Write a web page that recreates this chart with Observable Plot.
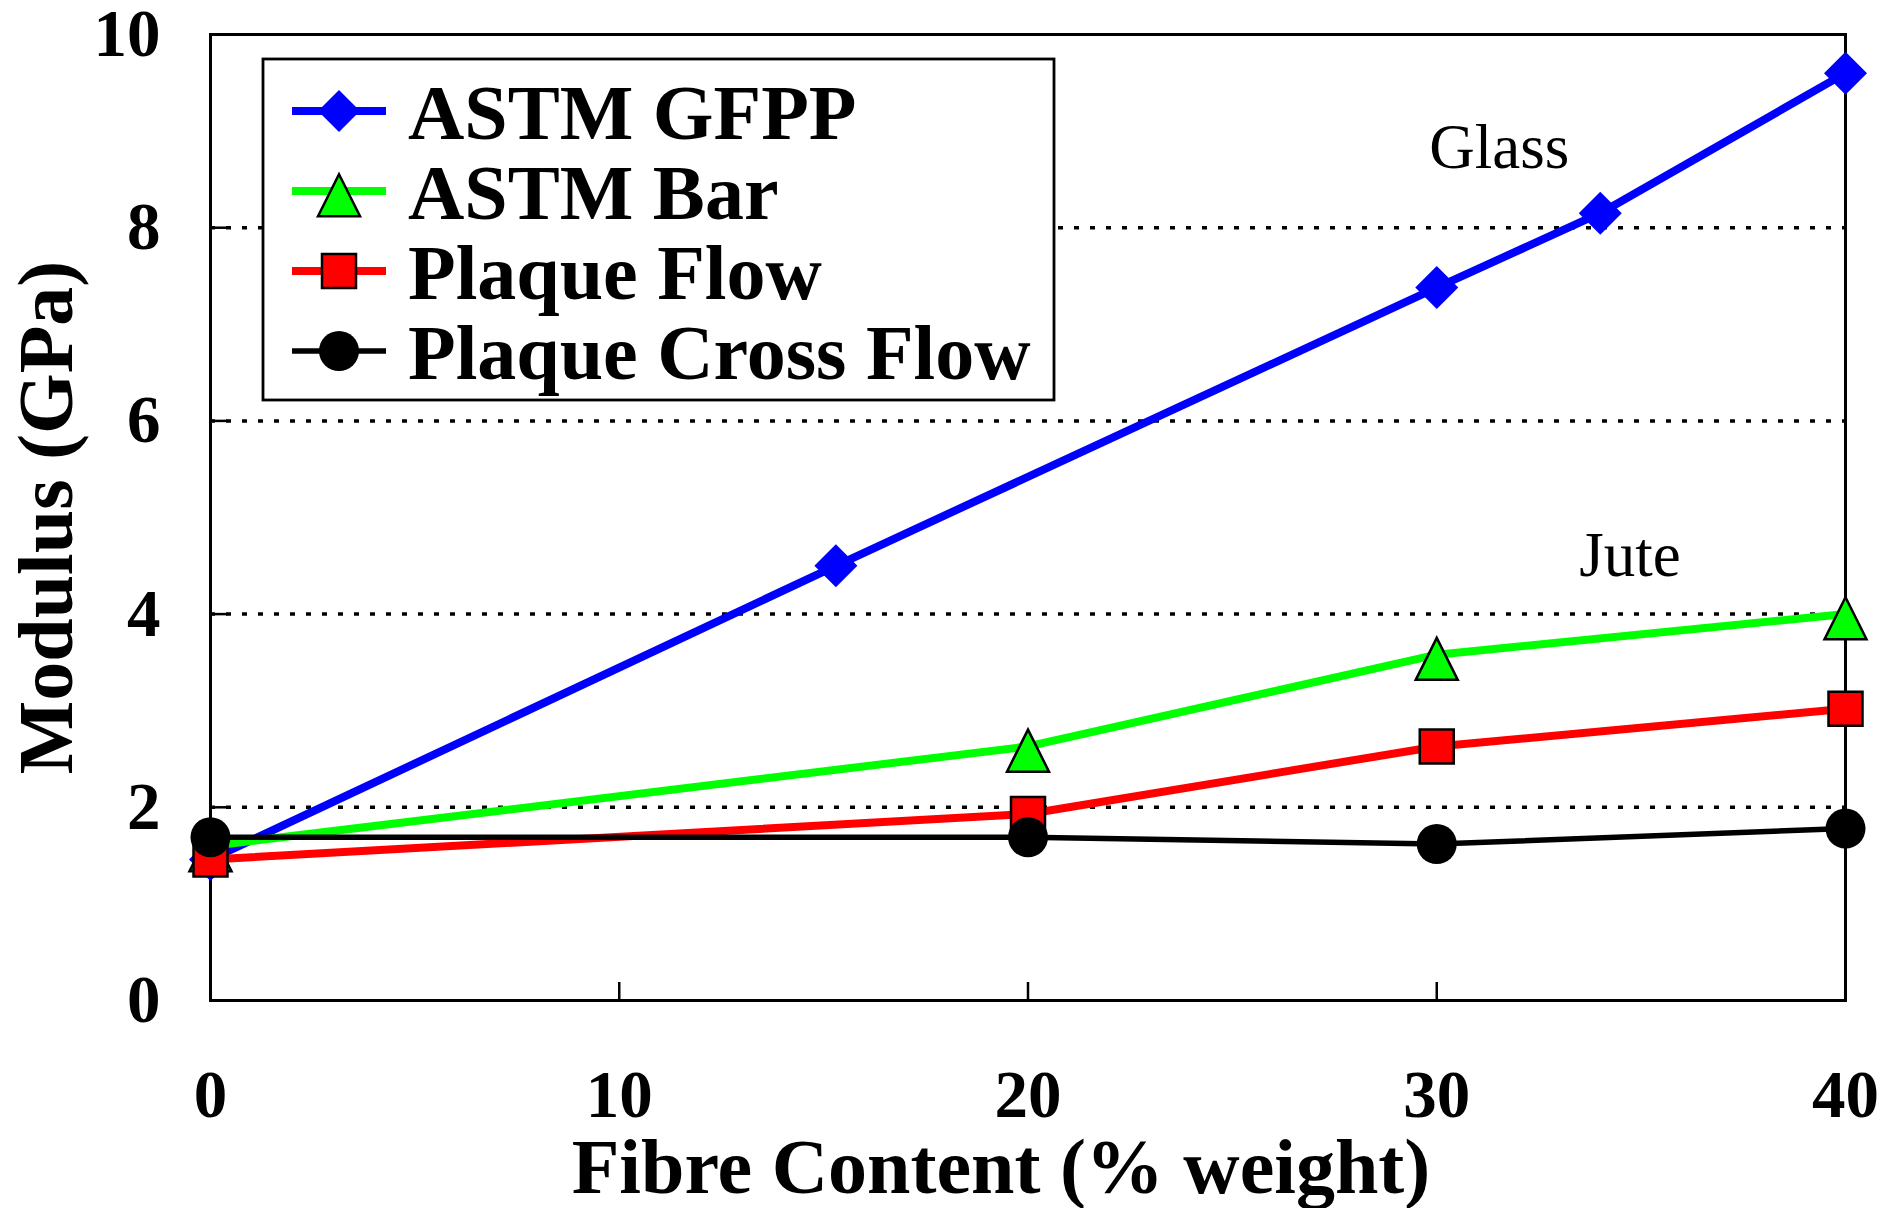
<!DOCTYPE html>
<html>
<head>
<meta charset="utf-8">
<script src="https://cdn.jsdelivr.net/npm/d3@7"></script>
<script src="https://cdn.jsdelivr.net/npm/@observablehq/plot@0.6"></script>
<style>
  body { margin: 0; background: #ffffff; }
  #chart svg { display: block; }
</style>
</head>
<body>
<div id="chart"></div>
<script>
// ---------------- data ----------------
const seriesNames = ["ASTM GFPP", "ASTM Bar", "Plaque Flow", "Plaque Cross Flow"];
const glassX = [0, 15.3, 30, 34, 40];
const gfppY = [1.46, 4.5, 7.38, 8.15, 9.6];
const juteX = [0, 20, 30, 40];
const barY = [1.6, 2.63, 3.58, 4.0];
const flowY = [1.46, 1.93, 2.63, 3.02];
const crossY = [1.69, 1.69, 1.62, 1.78];
const xTicks = [0, 10, 20, 30, 40];
const yTicks = [0, 2, 4, 6, 8, 10];
const gridY = [2, 4, 6, 8];
const annotLabels = ["Glass", "Jute"];
const annotX = [31.53, 34.73];
const annotY = [8.83, 4.6];
const xTitle = "Fibre Content (% weight)";
const yTitle = "Modulus (GPa)";

// ---------------- symbols ----------------
const symDiamond = {draw(ctx, size) {const r = Math.sqrt(size / Math.PI);
  ctx.moveTo(0, -r); ctx.lineTo(r, 0); ctx.lineTo(0, r); ctx.lineTo(-r, 0); ctx.closePath();}};
const symTriangle = {draw(ctx, size) {const r = Math.sqrt(size / Math.PI);
  ctx.moveTo(0, -0.8 * r); ctx.lineTo(r, 1.2 * r); ctx.lineTo(-r, 1.2 * r); ctx.closePath();}};
const symSquare = {draw(ctx, size) {const r = Math.sqrt(size / Math.PI);
  ctx.rect(-r, -r, 2 * r, 2 * r);}};

// ---------------- styles ----------------
const styles = [
  {color: "#0000ff", symbol: symDiamond, r: 21.5, fill: "#0000ff", stroke: "none", lw: 8, legendR: 21},
  {color: "#00ff00", symbol: symTriangle, r: 21, fill: "#00ff00", stroke: "#000", lw: 8, legendR: 21},
  {color: "#ff0000", symbol: symSquare, r: 17, fill: "#ff0000", stroke: "#000", lw: 8, legendR: 17},
  {color: "#000000", symbol: "circle", r: 20, fill: "#000", stroke: "none", lw: 5.5, legendR: 20}
];

const seriesData = [
  glassX.map((x, i) => ({x, y: gfppY[i]})),
  juteX.map((x, i) => ({x, y: barY[i]})),
  juteX.map((x, i) => ({x, y: flowY[i]})),
  juteX.map((x, i) => ({x, y: crossY[i]}))
];
const annotations = annotLabels.map((label, i) => ({label, x: annotX[i], y: annotY[i]}));

const serif = "'Liberation Serif', 'Times New Roman', Times, serif";

// legend drawn as a custom render mark
function legendMark(index, scales, values, dim) {
  const g = d3.create("svg:g");
  const left = dim.marginLeft + 53, top = dim.marginTop + 25;
  g.append("rect").attr("x", left).attr("y", top).attr("width", 791).attr("height", 341)
    .attr("fill", "#fff").attr("stroke", "#000").attr("stroke-width", 2.8);
  seriesNames.forEach((name, i) => {
    const s = styles[i];
    const cy = top + 52 + i * 80;
    g.append("line").attr("x1", left + 29).attr("x2", left + 123).attr("y1", cy).attr("y2", cy)
      .attr("stroke", s.color).attr("stroke-width", s.lw);
    const sym = s.symbol === "circle" ? d3.symbolCircle : s.symbol;
    g.append("path").attr("d", d3.symbol(sym, s.legendR * s.legendR * Math.PI)())
      .attr("transform", `translate(${left + 76},${cy})`)
      .attr("fill", s.fill).attr("stroke", s.stroke).attr("stroke-width", 2.5);
    g.append("text").attr("x", left + 145).attr("y", cy + 28).text(name)
      .attr("text-anchor", "start")
      .attr("font-family", serif).attr("font-weight", "bold").attr("font-size", 78).attr("fill", "#000");
  });
  return g.node();
}

const marks = [
  Plot.ruleY(gridY, {stroke: "#000", strokeWidth: 3.5, strokeDasharray: "5,11"}),
  Plot.frame({stroke: "#000", strokeWidth: 3}),
  Plot.axisX({ticks: xTicks, tickSize: -18, tickPadding: 87, strokeWidth: 2.5, label: null,
    fontSize: 67, fontWeight: "bold", fontFamily: serif}),
  Plot.axisY({ticks: yTicks, tickSize: -18, tickPadding: 68, strokeWidth: 2.5, label: null,
    fontSize: 67, fontWeight: "bold", fontFamily: serif})
];
seriesData.forEach((rows, i) => {
  const s = styles[i];
  marks.push(Plot.line(rows, {x: "x", y: "y", stroke: s.color, strokeWidth: s.lw}));
  marks.push(Plot.dot(rows, {x: "x", y: "y", symbol: s.symbol, r: s.r, fill: s.fill,
    stroke: s.stroke, strokeWidth: 2.5}));
});
marks.push(
  Plot.text(annotations, {x: "x", y: "y", text: "label", fontSize: 63, fontFamily: serif,
    textAnchor: "middle", lineAnchor: "middle", fill: "#000"}),
  Plot.text([yTitle], {frameAnchor: "left", text: d => d, rotate: -90, dx: -163,
    fontSize: 78, fontWeight: "bold", fontFamily: serif, textAnchor: "middle", lineAnchor: "middle", fill: "#000"}),
  Plot.text([xTitle], {frameAnchor: "bottom", text: d => d, dx: -27, dy: 168,
    fontSize: 78, fontWeight: "bold", fontFamily: serif, textAnchor: "middle", lineAnchor: "middle", fill: "#000"}),
  legendMark
);

const chart = Plot.plot({
  width: 1885,
  height: 1208,
  marginLeft: 210,
  marginRight: 40,
  marginTop: 34,
  marginBottom: 208,
  style: {fontFamily: serif, background: "#fff", color: "#000"},
  x: {domain: [0, 40]},
  y: {domain: [0, 10]},
  marks
});
document.getElementById("chart").appendChild(chart);
</script>
</body>
</html>
